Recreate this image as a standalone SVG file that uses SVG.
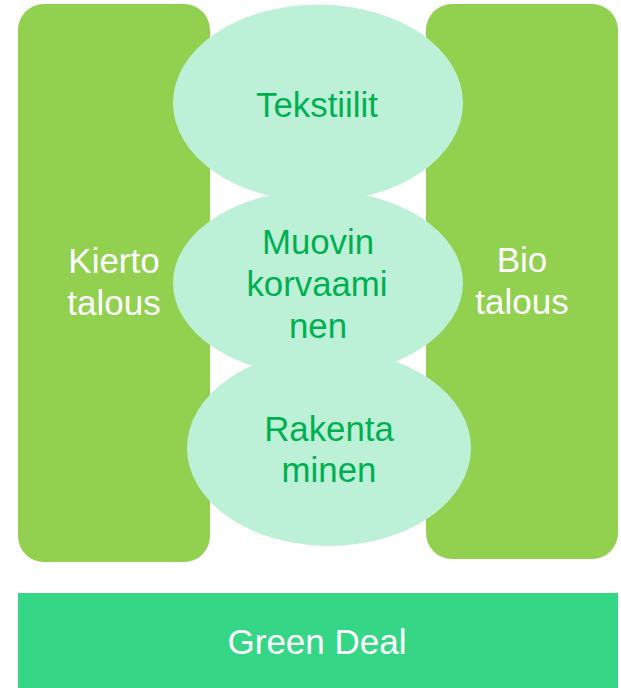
<svg xmlns="http://www.w3.org/2000/svg" width="621" height="688" viewBox="0 0 621 688">
  <style>
    .side { fill: #92D050; }
    .ell { fill: #BCF1D8; }
    .wt { fill: #FFFFFF; font-family: "Liberation Sans", Arial, sans-serif; font-size: 35px; text-anchor: middle; }
    .gt { fill: #00B050; font-family: "Liberation Sans", Arial, sans-serif; font-size: 34.8px; text-anchor: middle; }
  </style>
  <rect width="621" height="688" fill="#FFFFFF"/>
  <g id="kiertotalous">
    <rect class="side" x="18" y="4" width="192" height="558" rx="26" ry="26"/>
    <text class="wt" x="114" y="273">Kierto</text>
    <text class="wt" x="114" y="315">talous</text>
  </g>
  <g id="biotalous">
    <rect class="side" x="426" y="4" width="192" height="555" rx="26" ry="26"/>
    <text class="wt" x="522" y="272">Bio</text>
    <text class="wt" x="522" y="314">talous</text>
  </g>
  <g id="tekstiilit">
    <ellipse class="ell" cx="318" cy="103" rx="145" ry="98.5"/>
    <text class="gt" x="317" y="117">Tekstiilit</text>
  </g>
  <g id="muovin">
    <ellipse class="ell" cx="318" cy="283" rx="145" ry="93"/>
    <text class="gt" x="318" y="254">Muovin</text>
    <text class="gt" x="317" y="296">korvaami</text>
    <text class="gt" x="318" y="338">nen</text>
  </g>
  <g id="rakentaminen">
    <ellipse class="ell" cx="329" cy="448" rx="142" ry="98"/>
    <text class="gt" x="329" y="441">Rakenta</text>
    <text class="gt" x="329" y="482">minen</text>
  </g>
  <g id="greendeal">
    <rect x="18" y="593" width="600" height="95" fill="#35D787"/>
    <text class="wt" x="317" y="654">Green Deal</text>
  </g>
  <g id="connectors"></g>
</svg>
